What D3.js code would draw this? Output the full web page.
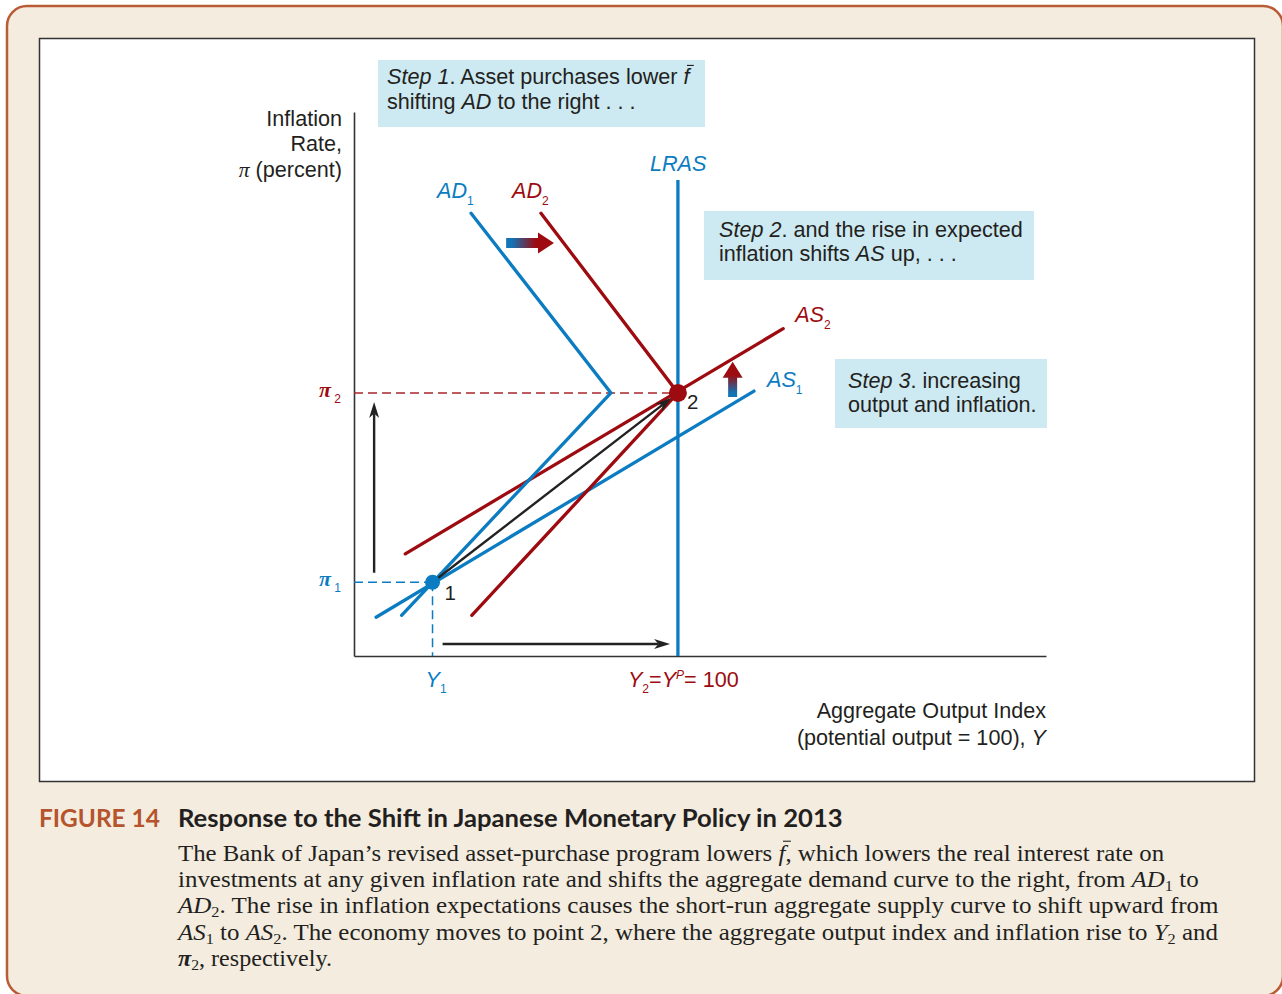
<!DOCTYPE html>
<html><head><meta charset="utf-8">
<script src="https://cdn.jsdelivr.net/npm/d3@7"></script>
<style>
html,body{margin:0;padding:0;background:#fff;}
svg{display:block;}
text{white-space:pre;}
</style></head>
<body>
<svg id="chart" width="1282" height="994"></svg>
<script>
// ---------------- data (model units: output index, inflation %) ----------------
const outputTicks = [90, 100];          // Y1, Y2 = Y^P = 100
const inflationTicks = [0, 2];          // pi1, pi2
const AD1 = [[91.57, 3.90], [97.27, 2.00], [88.74, -0.35]];
const AD2 = [[94.42, 3.90], [100.0, 2.00], [91.60, -0.35]];
const AS1 = [[87.70, -0.37], [103.10, 2.02]];
const AS2 = [[88.89, 0.30], [104.29, 2.68]];
const LRAS = [[100, -0.78], [100, 4.25]];
const point1 = [90, 0];
const point2 = [100, 2];
const arrowUp = [[87.62, 0.10], [87.62, 1.905]];
const arrowRight = [[90.41, -0.653], [99.68, -0.653]];
const shiftAD = [[93.00, 3.585], [94.95, 3.585]];
const shiftAS = [[102.23, 1.957], [102.23, 2.331]];

const xTickLabels = [
  [{t: 'Y', i: 1}, {t: '1', sub: 1}],
  [{t: 'Y', i: 1}, {t: '2', sub: 1}, '=', {t: 'Y', i: 1}, {t: 'P', sup: 1, i: 1}, '= 100']
];
const yTickLabels = [
  [{t: 'π', serif: 1}, {t: ' 1', sub: 1}],
  [{t: 'π', serif: 1}, {t: ' 2', sub: 1}]
];
const captionTitle = 'Response to the Shift in Japanese Monetary Policy in 2013';
const captionLines = [
  ['The Bank of Japan’s revised asset-purchase program lowers ', {t: 'f', i: 1, over: 1}, ', which lowers the real interest rate on'],
  ['investments at any given inflation rate and shifts the aggregate demand curve to the right, from ', {t: 'AD', i: 1}, {t: '1', sub: 1}, ' to'],
  [{t: 'AD', i: 1}, {t: '2', sub: 1}, '. The rise in inflation expectations causes the short-run aggregate supply curve to shift upward from'],
  [{t: 'AS', i: 1}, {t: '1', sub: 1}, ' to ', {t: 'AS', i: 1}, {t: '2', sub: 1}, '. The economy moves to point 2, where the aggregate output index and inflation rise to ', {t: 'Y', i: 1}, {t: '2', sub: 1}, ' and'],
  [{t: 'π', i: 1, b: 1}, {t: '2', sub: 1}, ', respectively.']
];
const captionWidths = [987, 1021, 1041, 1040, 154];

// ---------------- style ----------------
const BLUE = '#0b7cc1', RED = '#9d0b10', INK = '#231f20', BOXFILL = '#cde9f1', RUST = '#b5542d';
const SANS = "'Liberation Sans', Arial, Helvetica, sans-serif";
const SERIF = "'Liberation Serif', 'Times New Roman', serif";
const FS = 21.6;

const svg = d3.select('#chart');
svg.append('rect').attr('width', 1282).attr('height', 994).attr('fill', '#fff');
svg.append('rect').attr('x', 7).attr('y', 6).attr('width', 1276).attr('height', 990).attr('rx', 20)
  .attr('fill', '#f3ecdf').attr('stroke', '#b95c36').attr('stroke-width', 2.5);
svg.append('rect').attr('x', 39.5).attr('y', 38.5).attr('width', 1215).attr('height', 743)
  .attr('fill', '#fff').attr('stroke', '#333').attr('stroke-width', 1.5);

const defs = svg.append('defs');

function rich(parent, x, y, segs, o) {
  o = o || {};
  const fs = o.size || FS;
  const t = parent.append('text').attr('x', x).attr('y', y)
    .attr('font-family', o.family || SANS).attr('font-size', fs).attr('fill', o.fill || INK);
  if (o.anchor) t.attr('text-anchor', o.anchor);
  if (o.weight) t.attr('font-weight', o.weight);
  const subSize = o.subSize || Math.round(fs * 0.58);
  const subDy = o.subDy != null ? o.subDy : fs * 0.3;
  const supDy = o.supDy != null ? o.supDy : -fs * 0.38;
  let cur = 0, idx = 0;
  const marks = [];
  segs.forEach(s => {
    if (typeof s === 'string') s = {t: s};
    const ts = t.append('tspan').text(s.t);
    const target = s.sub ? subDy : (s.sup ? supDy : 0);
    if (target !== cur) { ts.attr('dy', target - cur); cur = target; }
    if (s.i) ts.attr('font-style', 'italic');
    if (s.b) ts.attr('font-weight', 'bold');
    if (s.serif) ts.attr('font-family', SERIF).attr('font-style', 'italic');
    if (s.serif && o.symSize) ts.attr('font-size', o.symSize).attr('font-weight', 'bold');
    if (s.sub || s.sup) ts.attr('font-size', subSize);
    if (s.over) marks.push(idx);
    idx += s.t.length;
  });
  marks.forEach(ci => {
    const n = t.node();
    const a = n.getStartPositionOfChar(ci), b = n.getEndPositionOfChar(ci);
    d3.select(n.parentNode).append('line')
      .attr('x1', a.x + fs * 0.16).attr('x2', b.x + fs * 0.2)
      .attr('y1', a.y - fs * 0.86).attr('y2', a.y - fs * 0.86)
      .attr('stroke', o.fill || INK).attr('stroke-width', 1.1);
  });
  return t;
}

// ---------------- scales & axes ----------------
const x = d3.scaleLinear().domain([86.8, 115]).range([354, 1046]);
const y = d3.scaleLinear().domain([-0.78, 4.97]).range([656, 112]);
const plot = svg.append('g');

plot.append('g').attr('transform', `translate(0,${y.range()[0]})`)
  .call(d3.axisBottom(x).tickValues([]).tickSizeOuter(0))
  .call(a => a.select('.domain').attr('stroke', '#333').attr('stroke-width', 1.6));
plot.append('g').attr('transform', `translate(${x.range()[0]},0)`)
  .call(d3.axisLeft(y).tickValues([]).tickSizeOuter(0))
  .call(a => a.select('.domain').attr('stroke', '#333').attr('stroke-width', 1.6));

// step boxes
const boxes = [
  {r: [378, 60, 327, 67], tx: 387, lines: [[84, [{t: 'Step 1', i: 1}, '. Asset purchases lower ', {t: 'f', i: 1, over: 1}]], [109, ['shifting ', {t: 'AD', i: 1}, ' to the right . . .']]]},
  {r: [704, 211, 330, 69], tx: 719, lines: [[237, [{t: 'Step 2', i: 1}, '. and the rise in expected']], [261, ['inflation shifts ', {t: 'AS', i: 1}, ' up, . . .']]]},
  {r: [835, 359, 212, 69], tx: 848, lines: [[388, [{t: 'Step 3', i: 1}, '. increasing']], [412, ['output and inflation.']]]}
];
boxes.forEach(b => {
  plot.append('rect').attr('x', b.r[0]).attr('y', b.r[1]).attr('width', b.r[2]).attr('height', b.r[3]).attr('fill', BOXFILL);
  b.lines.forEach(([yy, segs]) => rich(plot, b.tx, yy, segs));
});

// axis titles
rich(plot, 342, 126, ['Inflation'], {anchor: 'end'});
rich(plot, 342, 151, ['Rate,'], {anchor: 'end'});
rich(plot, 342, 177, [{t: 'π', serif: 1}, ' (percent)'], {anchor: 'end'});
rich(plot, 1046, 718, ['Aggregate Output Index'], {anchor: 'end'});
rich(plot, 1046, 745, ['(potential output = 100), ', {t: 'Y', i: 1}], {anchor: 'end'});

// dashed guides
const dash = (x1, y1, x2, y2, c) => plot.append('line').attr('x1', x1).attr('y1', y1).attr('x2', x2).attr('y2', y2)
  .attr('stroke', c).attr('stroke-width', 1.5).attr('stroke-dasharray', '9,5');
dash(x.range()[0], y(point2[1]), x(point2[0]), y(point2[1]), '#a8262b');
dash(x.range()[0], y(point1[1]), x(point1[0]), y(point1[1]), BLUE);
dash(x(point1[0]), y(point1[1]), x(point1[0]), y.range()[0], BLUE);

// curves
const line = d3.line().x(d => x(d[0])).y(d => y(d[1]));
const curve = (data, c) => plot.append('path').datum(data).attr('d', line).attr('fill', 'none')
  .attr('stroke', c).attr('stroke-width', 3.3).attr('stroke-linejoin', 'miter').attr('stroke-linecap', 'round');
curve(AS2, RED);
curve(AD1, BLUE);
curve(AS1, BLUE);
curve(AD2, RED);
curve(LRAS, BLUE).attr('stroke-linecap', 'butt');

// black arrows
function blackArrow(p0, p1, shorten) {
  let x0 = x(p0[0]), y0 = y(p0[1]), x1 = x(p1[0]), y1 = y(p1[1]);
  const dx = x1 - x0, dy = y1 - y0, L = Math.hypot(dx, dy), ux = dx / L, uy = dy / L;
  if (shorten) { x1 -= ux * shorten; y1 -= uy * shorten; }
  const hl = 16, hw = 5;
  const bx = x1 - ux * hl, by = y1 - uy * hl;
  const nx = x1 - ux * hl * 0.72, ny = y1 - uy * hl * 0.72;
  plot.append('line').attr('x1', x0).attr('y1', y0).attr('x2', nx).attr('y2', ny)
    .attr('stroke', '#222').attr('stroke-width', 2.4);
  plot.append('path').attr('fill', '#222')
    .attr('d', `M${x1},${y1}L${bx - uy * hw},${by + ux * hw}L${nx},${ny}L${bx + uy * hw},${by - ux * hw}Z`);
}
blackArrow(arrowUp[0], arrowUp[1]);
blackArrow(arrowRight[0], arrowRight[1]);
blackArrow(point1, point2, 8);

// gradient shift arrows
function gradArrow(p, id, sw, hw, hl) {
  const x0 = x(p[0][0]), y0 = y(p[0][1]), x1 = x(p[1][0]), y1 = y(p[1][1]);
  const dx = x1 - x0, dy = y1 - y0, L = Math.hypot(dx, dy), ux = dx / L, uy = dy / L;
  const gr = defs.append('linearGradient').attr('id', id).attr('gradientUnits', 'userSpaceOnUse')
    .attr('x1', x0).attr('y1', y0).attr('x2', x1).attr('y2', y1);
  gr.append('stop').attr('offset', 0).attr('stop-color', '#1273b5');
  gr.append('stop').attr('offset', 0.12).attr('stop-color', '#1273b5');
  gr.append('stop').attr('offset', 0.62).attr('stop-color', RED);
  gr.append('stop').attr('offset', 1).attr('stop-color', RED);
  const bx = x1 - ux * hl, by = y1 - uy * hl;
  const px = -uy, py = ux;
  const pts = [
    [x0 + px * sw / 2, y0 + py * sw / 2], [bx + px * sw / 2, by + py * sw / 2], [bx + px * hw / 2, by + py * hw / 2],
    [x1, y1],
    [bx - px * hw / 2, by - py * hw / 2], [bx - px * sw / 2, by - py * sw / 2], [x0 - px * sw / 2, y0 - py * sw / 2]
  ];
  plot.append('path').attr('d', 'M' + pts.map(q => q.join(',')).join('L') + 'Z').attr('fill', `url(#${id})`);
}
gradArrow(shiftAD, 'gAD', 10, 21, 16);
gradArrow(shiftAS, 'gAS', 9, 20, 16);

// equilibrium points
plot.append('circle').attr('cx', x(point1[0])).attr('cy', y(point1[1])).attr('r', 7.5).attr('fill', BLUE);
plot.append('circle').attr('cx', x(point2[0])).attr('cy', y(point2[1])).attr('r', 9).attr('fill', RED);
rich(plot, x(point1[0]) + 12, y(point1[1]) + 18, ['1'], {size: 20.5});
rich(plot, x(point2[0]) + 9, y(point2[1]) + 16, ['2'], {size: 20.5});

// curve labels
rich(plot, x(AD1[0][0]) - 34, y(AD1[0][1]) - 15, [{t: 'AD', i: 1}, {t: '1', sub: 1}], {fill: BLUE, subSize: 12, subDy: 7});
rich(plot, x(AD2[0][0]) - 29, y(AD2[0][1]) - 15, [{t: 'AD', i: 1}, {t: '2', sub: 1}], {fill: RED, subSize: 12, subDy: 7});
rich(plot, x(LRAS[1][0]) - 28, y(LRAS[1][1]) - 9, [{t: 'LRAS', i: 1}], {fill: BLUE});
rich(plot, x(AS2[1][0]) + 12, y(AS2[1][1]) - 7, [{t: 'AS', i: 1}, {t: '2', sub: 1}], {fill: RED, subSize: 12, subDy: 7});
rich(plot, x(AS1[1][0]) + 13, y(AS1[1][1]) - 4, [{t: 'AS', i: 1}, {t: '1', sub: 1}], {fill: BLUE, subSize: 12, subDy: 7});

// tick labels
const tickCols = [BLUE, RED];
outputTicks.forEach((v, i) => {
  const off = i === 0 ? -7 : -50;
  rich(plot, x(v) + off, 687, xTickLabels[i], {fill: tickCols[i], subSize: 12, subDy: 6, supDy: -8});
});
inflationTicks.forEach((v, i) => {
  rich(plot, 319, y(v) + 4, yTickLabels[i], {fill: tickCols[i], size: 20, symSize: 22, subSize: 12, subDy: 6});
});

// ---------------- caption ----------------
function fitLine(x0, y0, segs, o, width) {
  const gg = svg.append('g');
  const t = rich(gg, x0, y0, segs, o);
  const w = t.node().getComputedTextLength();
  gg.attr('transform', `translate(${x0},0) scale(${width / w},1) translate(${-x0},0)`);
  return t;
}
fitLine(39, 827, ['FIGURE 14'], {family: "Lato, 'Open Sans', sans-serif", weight: 'bold', size: 25, fill: RUST}, 121);
fitLine(178, 827, [captionTitle], {family: "Lato, 'Open Sans', sans-serif", weight: 'bold', size: 25, fill: INK}, 665);
const capBase = [861, 887.5, 913.5, 940, 966.5];
captionLines.forEach((segs, i) => {
  fitLine(178, capBase[i], segs, {family: SERIF, size: 23, fill: INK, subSize: 15, subDy: 4}, captionWidths[i]);
});
</script>
</body></html>
